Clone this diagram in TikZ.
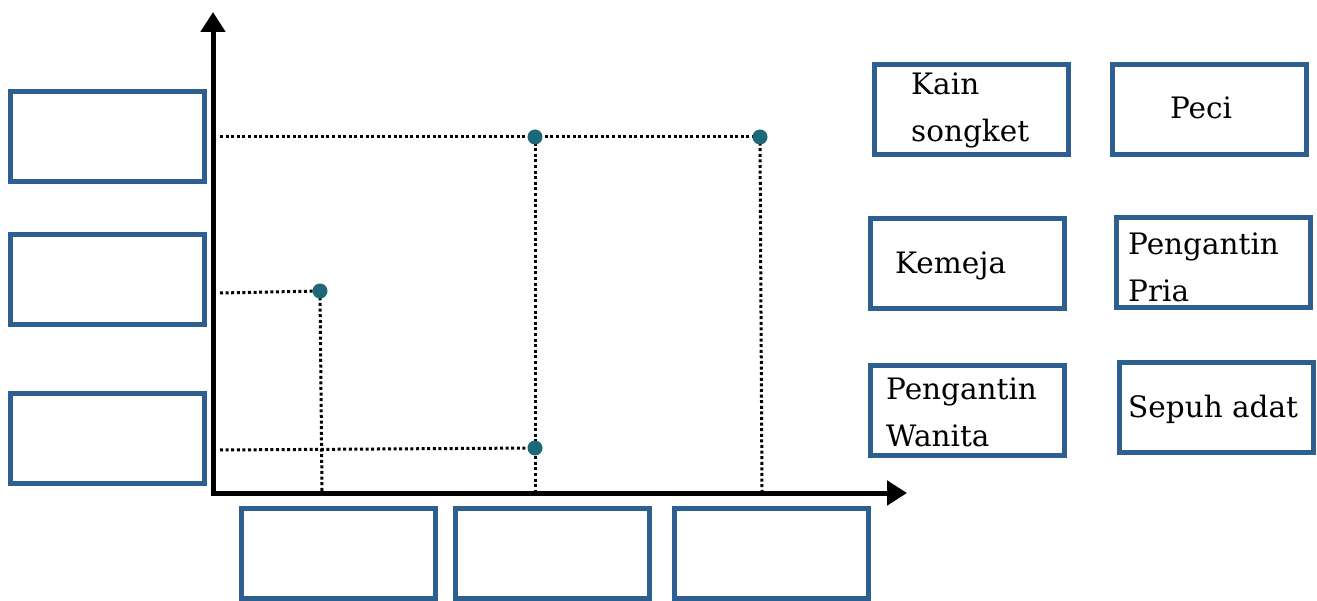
\documentclass[tikz,border=0pt]{standalone}
\usepackage{fontspec}
\setmainfont{DejaVu Serif}
\usetikzlibrary{arrows.meta}
\definecolor{boxblue}{RGB}{46,95,145}
\definecolor{dotteal}{RGB}{28,104,118}
\tikzset{
  box/.style={draw=boxblue, line width=5pt, minimum width=194pt, minimum height=90pt, inner sep=0pt},
  lbl/.style={font=\fontsize{29.5}{47}\selectfont, inner sep=0pt, anchor=west, align=left},
  axis/.style={line width=5pt, -{Triangle[length=20pt,width=24pt]}},
  guide/.style={line width=3pt, dash pattern=on 3pt off 2.6pt},
  pt/.style={circle, fill=dotteal, minimum size=15pt, inner sep=0pt}
}
\begin{document}
\begin{tikzpicture}[x=1pt,y=-1pt]
\useasboundingbox (0,0) rectangle (1317,601);
% axes
\coordinate (O) at (213,493);
\coordinate (ytip) at (213,12);
\coordinate (xtip) at (907,493);
% left boxes
\node[box] (l1) at (107.5,137) {};
\node[box] (l2) at (107.5,279.5) {};
\node[box] (l3) at (107.5,438.5) {};
% bottom boxes
\node[box] (b1) at (338,553) {};
\node[box] (b2) at (552.5,553) {};
\node[box] (b3) at (771,553) {};
% guides
\coordinate (c1) at (535,137);
\coordinate (c2) at (760,137);
\coordinate (c3) at (320,291);
\coordinate (c4) at (535,448);
\coordinate (h1) at (220,137);
\coordinate (h3) at (220,293);
\coordinate (h4) at (220,450);
\coordinate (v1) at (535,491);
\coordinate (v2) at (762,491);
\coordinate (v3) at (322,491);
\draw[guide] (h1) -- (c1) -- (c2);
\draw[guide] (c2) -- (v2);
\draw[guide] (c1) -- (c4) -- (v1);
\draw[guide] (h3) -- (c3) -- (v3);
\draw[guide] (h4) -- (c4);
\node[pt] (p1) at (c1) {};
\node[pt] (p2) at (c2) {};
\node[pt] (p3) at (c3) {};
\node[pt] (p4) at (c4) {};
\draw[axis] (O) -- (ytip);
\draw[axis] ([xshift=-2.5pt]O) -- (xtip);
% right boxes
\node[box] (r1) at (971,110) {};
\node[box] (r2) at (1209.5,110) {};
\node[box] (r3) at (967,264) {};
\node[box] (r4) at (1213,263) {};
\node[box] (r5) at (967,410.5) {};
\node[box] (r6) at (1216,407.5) {};
\node[lbl] (t1) at (911,110) {Kain\\songket};
\node[lbl, anchor=center] (t2) at (1201,108) {Peci};
\node[lbl] (t3) at (895,266) {Kemeja};
\node[lbl] (t4) at (1128,267) {Pengantin\\Pria};
\node[lbl] (t5) at (886,412) {Pengantin\\Wanita};
\node[lbl] (t6) at (1128,409) {Sepuh adat};
\end{tikzpicture}
\end{document}
